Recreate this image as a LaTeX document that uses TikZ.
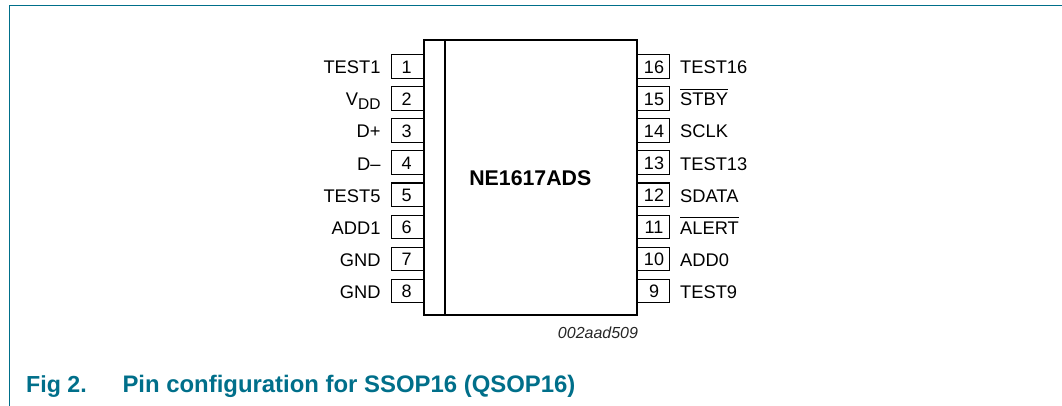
\documentclass[tikz,border=0pt]{standalone}
\usepackage{fontspec}
\setmainfont{Liberation Sans}
\definecolor{nxpteal}{HTML}{006F8A}
\tikzset{x=1pt,y=-1pt,
  pinbox/.style={draw=black,line width=1.1pt,fill=white,minimum width=32.5pt,minimum height=23.5pt,inner sep=0pt},
  pinnum/.style={inner sep=0pt,font=\fontsize{18}{20}\selectfont},
  pinlabel/.style={inner sep=0pt,font=\fontsize{18.3}{20}\selectfont,text height=13pt,text depth=0pt},
  codelabel/.style={inner sep=0pt,font=\fontsize{16}{18}\selectfont\itshape,text=black!85},
  caption/.style={inner sep=0pt,anchor=base west,font=\fontsize{23.9}{26}\selectfont\bfseries,text=nxpteal},
  chipbody/.style={draw=black,line width=2.2pt,fill=white,inner sep=0pt,minimum width=213pt,minimum height=275pt},
  frameline/.style={draw=nxpteal,line width=1.2pt}}
\newcommand{\ovl}[1]{\setbox0=\hbox{#1}\rlap{\rule[16.3pt]{\wd0}{1pt}}\box0}
\begin{document}
\begin{tikzpicture}
\useasboundingbox (0,0) rectangle (1062,406);
\coordinate (fa) at (9.5,406);
\coordinate (fb) at (9.5,5.4);
\coordinate (fc) at (1062,5.4);
\draw[frameline] (fa) -- (fb) -- (fc);
% pin boxes
\foreach \n/\lab [count=\i from 0] in {1/TEST1,2/{V\raisebox{-4pt}{\fontsize{15.5}{18}\selectfont DD}},3/D+,4/D–,5/TEST5,6/ADD1,7/GND,8/GND}{
  \node[pinbox] (p\n) at (408,66.4+32.1*\i) {};
  \node[pinnum] (n\n) at (406.5,67+32.1*\i) {\n};
  \node[pinlabel,anchor=east] (l\n) at (380.7,67.3+32.1*\i) {\lab};
}
\foreach \n/\lab [count=\i from 0] in {16/TEST16,15/{\ovl{STBY}},14/SCLK,13/TEST13,12/SDATA,11/{\ovl{ALERT}},10/ADD0,9/TEST9}{
  \node[pinbox] (p\n) at (653,66.4+32.1*\i) {};
  \node[pinnum] (n\n) at (654,67+32.1*\i) {\n};
  \node[pinlabel,anchor=west] (l\n) at (680,67.3+32.1*\i) {\lab};
}
\node[chipbody] (chip) at (530.5,177.5) {};
\coordinate (st) at (445,40);
\coordinate (sb) at (445,315);
\draw[line width=1.1pt] (st) -- (sb);
\node[inner sep=0pt,font=\fontsize{21.3}{24}\selectfont\bfseries] (name) at (530.3,178) {NE1617ADS};
\node[codelabel] (code) at (598,332.5) {002aad509};
\node[caption,font=\fontsize{23.2}{26}\selectfont\bfseries] (c1) at (26,392.4) {Fig 2.};
\node[caption] (c2) at (122.3,392.4) {Pin configuration for SSOP16 (QSOP16)};
\end{tikzpicture}
\end{document}
